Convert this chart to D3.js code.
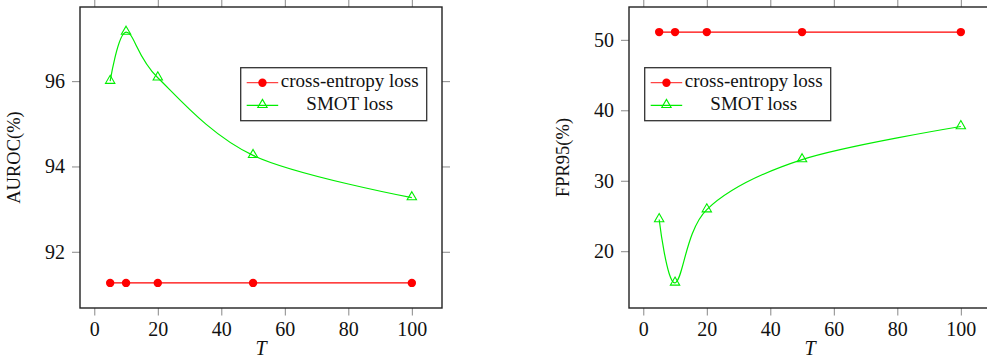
<!DOCTYPE html>
<html><head><meta charset="utf-8">
<script src="https://cdn.jsdelivr.net/npm/d3@7"></script>
<style>
html,body{margin:0;padding:0;background:#fff;overflow:hidden;}
svg{display:block;}
svg text{font-family:"Liberation Serif","Times New Roman",serif !important;fill:#111;}
</style></head>
<body>
<script>
const T = [5, 10, 20, 50, 100];
const xTicks = [0, 20, 40, 60, 80, 100];
const aurocCE = [91.27, 91.27, 91.27, 91.27, 91.27];
const aurocSMOT = [96.0, 97.15, 96.08, 94.26, 93.27];
const aurocTicks = [92, 94, 96];
const fprCE = [51.1, 51.1, 51.1, 51.1, 51.1];
const fprSMOT = [24.5, 15.5, 25.9, 33.0, 37.7];
const fprTicks = [20, 30, 40, 50];
const seriesNames = ["cross-entropy loss", "SMOT loss"];

const FONT = "Liberation Serif, Times New Roman, serif";
const W = 987, H = 358;
const svg = d3.select("body").append("svg").attr("width", W).attr("height", H)
  .attr("font-family", FONT);

function enlarge(vals){
  const [a,b] = d3.extent(vals); const p = (b-a)*0.1; return [a-p, b+p];
}

function panel(opts){
  const {x0, x1, y0, y1, ce, smot, yTicks, yLabel, legend} = opts;
  const g = svg.append("g");
  const x = d3.scaleLinear().domain(enlarge(T)).range([x0, x1]);
  const y = d3.scaleLinear().domain(enlarge(ce.concat(smot))).range([y1, y0]);
  const tickCol = "#888";
  const fs = "20px";
  const fmt = d3.format("d");
  const ab = g.append("g").attr("transform",`translate(0,${y1})`)
    .call(d3.axisBottom(x).tickValues(xTicks).tickSize(7.5).tickSizeOuter(0).tickPadding(6).tickFormat(fmt));
  const at = g.append("g").attr("transform",`translate(0,${y0})`)
    .call(d3.axisTop(x).tickValues(xTicks).tickSize(7.5).tickSizeOuter(0).tickFormat(""));
  const al = g.append("g").attr("transform",`translate(${x0},0)`)
    .call(d3.axisLeft(y).tickValues(yTicks).tickSize(8).tickSizeOuter(0).tickPadding(7).tickFormat(fmt));
  const ar = g.append("g").attr("transform",`translate(${x1},0)`)
    .call(d3.axisRight(y).tickValues(yTicks).tickSize(8).tickSizeOuter(0).tickFormat(""));
  [ab,at,al,ar].forEach(a=>{
    a.attr("font-family", FONT).attr("font-size", fs);
    a.select(".domain").remove();
    a.selectAll(".tick line").attr("stroke", tickCol).attr("stroke-width", 1);
    a.selectAll(".tick text").attr("font-family", FONT).attr("font-size", fs).attr("fill","#111");
  });
  g.append("rect").attr("x", x0).attr("y", y0).attr("width", x1-x0).attr("height", y1-y0)
    .attr("fill","none").attr("stroke","#222").attr("stroke-width",1.4);
  g.append("text").attr("transform",`translate(${opts.ylx},${(y0+y1)/2}) rotate(-90)`)
    .attr("text-anchor","middle").attr("dominant-baseline","middle")
    .attr("font-family", FONT).attr("font-size","18.5px").text(yLabel);
  g.append("text").attr("x",(x0+x1)/2).attr("y",355).attr("text-anchor","middle")
    .attr("font-family", FONT).attr("font-size","20px").attr("font-style","italic").text("T");

  const ceData = T.map((t,i)=>[t, ce[i]]);
  const smData = T.map((t,i)=>[t, smot[i]]);
  g.append("path").attr("d", d3.line().x(d=>x(d[0])).y(d=>y(d[1]))(ceData))
    .attr("fill","none").attr("stroke","#ff0000").attr("stroke-width",1.2);
  g.selectAll(".cem").data(ceData).enter().append("circle")
    .attr("cx",d=>x(d[0])).attr("cy",d=>y(d[1])).attr("r",4.2).attr("fill","#ff0000");
  g.append("path").attr("d", d3.line().curve(d3.curveCardinal.tension(0)).x(d=>x(d[0])).y(d=>y(d[1]))(smData))
    .attr("fill","none").attr("stroke","#00ee00").attr("stroke-width",1.2);
  const tri = d3.symbol().type(d3.symbolTriangle).size(38);
  g.selectAll(".smm").data(smData).enter().append("path")
    .attr("d", tri).attr("transform", d=>`translate(${x(d[0])},${y(d[1])-0.5})`)
    .attr("fill","none").attr("stroke","#00ee00").attr("stroke-width",1.1);

  const L = legend;
  g.append("rect").attr("x",L.x).attr("y",L.y).attr("width",L.w).attr("height",L.h)
    .attr("fill","#fff").attr("stroke","#333").attr("stroke-width",1.3);
  const rows = [L.y+15, L.y+37.6];
  const lx0 = L.x+6, lx1 = L.x+37.5, lm = (lx0+lx1)/2;
  g.append("line").attr("x1",lx0).attr("x2",lx1).attr("y1",rows[0]).attr("y2",rows[0]).attr("stroke","#ff4444").attr("stroke-width",1.3);
  g.append("circle").attr("cx",lm).attr("cy",rows[0]).attr("r",4.2).attr("fill","#ff0000");
  g.append("line").attr("x1",lx0).attr("x2",lx1).attr("y1",rows[1]).attr("y2",rows[1]).attr("stroke","#00ee00").attr("stroke-width",1.2);
  g.append("path").attr("d",tri).attr("transform",`translate(${lm},${rows[1]-0.5})`)
    .attr("fill","none").attr("stroke","#00ee00").attr("stroke-width",1.1);
  const tc = L.x + 109;
  seriesNames.forEach((n,i)=>{
    g.append("text").attr("x",tc).attr("y",rows[i]).attr("text-anchor","middle")
      .attr("dominant-baseline","middle").attr("font-family", FONT).attr("font-size","19px").text(n);
  });
}

panel({x0:80, x1:442, y0:7, y1:308, ce:aurocCE, smot:aurocSMOT, yTicks:aurocTicks,
  yLabel:"AUROC(%)", ylx:16, legend:{x:240.7, y:67.7, w:186, h:53}});
panel({x0:629, x1:991, y0:7, y1:308, ce:fprCE, smot:fprSMOT, yTicks:fprTicks,
  yLabel:"FPR95(%)", ylx:565, legend:{x:644.7, y:67.7, w:186, h:53}});
</script>
</body></html>
